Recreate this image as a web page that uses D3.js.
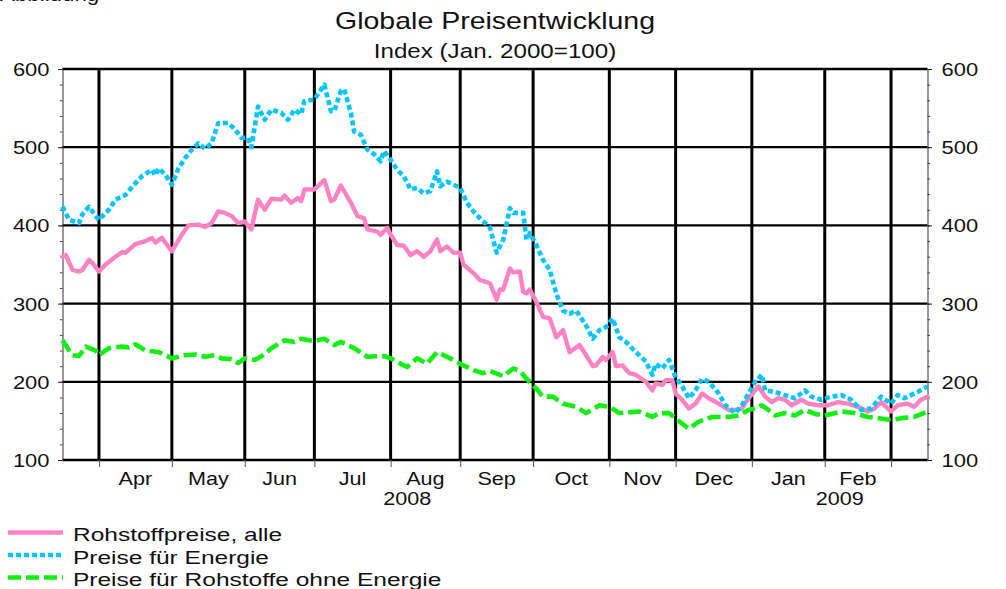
<!DOCTYPE html>
<html>
<head>
<meta charset="utf-8">
<script src="https://cdn.jsdelivr.net/npm/d3@7"></script>
<style>
  body { margin: 0; background: #fff; }
  svg { display: block; }
  text { font-family: "Liberation Sans", Arial, sans-serif; fill: #111; }
</style>
</head>
<body>
<div id="chart"></div>
<script>
// x positions are trading days (Mon-Fri), day 0 = 17 Mar 2008
const seriesNames = ["Rohstoffpreise, alle", "Preise für Energie", "Preise für Rohstoffe ohne Energie"];
const monthNames = ["Jan", "Feb", "Mar", "Apr", "May", "Jun", "Jul", "Aug", "Sep", "Oct", "Nov", "Dec"];
const yTicks = [100, 200, 300, 400, 500, 600];

const allDays = [0,1,3,5,6,8,9,11,13,16, 18,19,22,25,27,28,30,33,36,38, 41,43,45,47,49,51,53,55,57,59,
  61,63,66,67,69,71,72,73,76,79, 81,82,84,87,89,91,92,95,96,98, 99,101,103,105,107,109,111,113,114,116,
  118,120,121,124,126,129,131,132,133,135, 136,138,139,140,141,143,145,147,149,151, 153,156,158,160,161,163,164,166,167,169,
  171,173,176,178,179,181,182,184,185,187, 189,191,193,195,198,201,203,205,207,210, 212,214,216,218,220,223,225,228,231,234,
  237,240,243,245,247,250,252,255,257,259, 261];
const allValues = [360,362,343,341,343,356,352,341,350,360, 366,365,376,380,384,378,384,367,388,400, 401,398,403,418,416,412,403,405,395,433,
  420,434,433,438,429,435,431,446,446,458, 431,433,451,429,412,409,395,392,388,397, 388,375,374,362,367,360,367,382,367,373,
  365,365,350,339,330,326,305,318,318,345, 340,341,315,313,318,302,283,281,257,266, 238,247,234,220,221,232,228,238,220,221,
  211,209,200,189,198,196,202,202,185,177, 166,172,185,179,172,164,164,166,179,194, 181,174,179,177,170,177,172,170,170,174,
  172,168,162,166,174,162,170,172,168,177, 181];

const energyDays = [0,2,5,6,8,10,11,13,14,16, 18,19,22,24,27,28,29,31,33,35, 37,39,41,43,45,47,50,52,54,56,
  57,59,61,63,66,68,70,72,73,76, 79,81,82,84,85,87,88,90,92,94, 96,97,99,101,103,105,107,109,111,113,
  114,116,118,120,122,124,126,129,131,133, 135,136,139,140,141,143,145,147,149,151, 153,155,158,160,162,164,166,168,170,173,
  176,178,179,181,183,185,187,189,191,193, 195,198,200,203,205,207,209,211,212,215, 218,221,224,226,229,232,235,238,241,244,
  247,250,252,254,256,258,261];
const energyValues = [424,407,403,414,424,412,407,416,420,433, 437,439,454,463,471,464,473,465,452,473, 486,497,505,498,505,531,531,523,512,512,
  500,552,535,548,544,535,548,542,559,561, 580,546,546,572,574,544,520,516,497,491, 482,495,484,471,463,446,448,441,444,469,
  450,456,452,448,429,418,409,397,365,382, 422,416,416,382,390,375,356,343,313,291, 287,291,272,255,266,270,281,257,251,238,
  226,209,223,217,228,206,194,179,189,204, 200,185,170,160,170,185,200,209,189,187, 183,179,189,181,177,181,183,177,164,166,
  181,172,183,179,183,187,194];

const nonEnergyDays = [0,3,5,7,10,11,14,18,20,22, 25,29,31,33,37,40,43,46,48,51, 53,55,58,61,63,67,70,72,76,79,
  82,84,88,92,97,99,102,104,107,110, 113,117,120,124,127,129,133,136,138,140, 143,145,148,151,155,158,162,165,168,174,
  178,180,183,185,189,192,196,201,204,207, 209,211,213,215,218,221,224,227,230,235, 239,243,247,250,254,257,261];
const nonEnergyValues = [253,234,233,245,240,234,243,245,244,248, 240,238,234,230,234,235,232,234,230,229, 224,230,228,235,243,253,251,255,252,255,
  247,251,243,232,233,230,223,219,230,223, 238,230,223,215,211,214,207,217,214,204, 191,181,181,172,168,160,170,168,160,162,
  155,160,160,153,140,149,155,155,157,164, 166,170,164,157,160,157,164,159,157,162, 160,155,153,151,154,155,162];

const W = 1006, H = 589;
const plotLeft = 62.5, plotRight = 927.5, plotTop = 69, plotBottom = 460;
const sx = 1.22; // the original picture is stretched horizontally

const series = [
  { name: seriesNames[0], days: allDays, values: allValues, color: "#ff82c3", dash: null, width: 4.4 },
  { name: seriesNames[1], days: energyDays, values: energyValues, color: "#00c6ff", dash: "5,3", width: 4.6 },
  { name: seriesNames[2], days: nonEnergyDays, values: nonEnergyValues, color: "#11f011", dash: "13,5", width: 4.6 }
];

// trading calendar
const tradingDates = d3.timeDay.range(new Date(2008, 2, 17), new Date(2009, 2, 18))
  .filter(d => d.getDay() % 6 !== 0);
const lastDay = tradingDates.length - 1;
const monthStarts = d3.range(1, tradingDates.length)
  .filter(i => tradingDates[i].getMonth() !== tradingDates[i - 1].getMonth());

const x = d3.scaleLinear().domain([0, lastDay]).range([plotLeft, plotRight]);
const y = d3.scaleLinear().domain([100, 600]).range([plotBottom, plotTop]);

const svg = d3.select("#chart").append("svg").attr("width", W).attr("height", H);

function label(str, px, py, size, anchor, k) {
  return svg.append("text")
    .attr("transform", `translate(${px},${py}) scale(${k},1)`)
    .attr("text-anchor", anchor)
    .style("font-size", size + "px")
    .text(str);
}

// caption cut off at the very top, as in the original
label("Abbildung", 0, 0.5, 18, "start", 1.24);

label("Globale Preisentwicklung", (plotLeft + plotRight) / 2, 29, 23, "middle", 1.24);
label("Index (Jan. 2000=100)", (plotLeft + plotRight) / 2, 57.5, 19.5, "middle", 1.24);

// grid
svg.append("g").selectAll("line").data(yTicks).join("line")
  .attr("x1", plotLeft).attr("x2", plotRight)
  .attr("y1", d => y(d)).attr("y2", d => y(d))
  .attr("stroke", "#000").attr("stroke-width", 2.3);

svg.append("g").selectAll("line").data(monthStarts).join("line")
  .attr("x1", d => x(d)).attr("x2", d => x(d))
  .attr("y1", plotTop).attr("y2", plotBottom)
  .attr("stroke", "#000").attr("stroke-width", 3);

// y axes, both sides
function yAxis(axisFn, px, textOffset, anchor) {
  svg.append("g").attr("transform", `translate(${px},0)`)
    .call(axisFn(y).tickValues(d3.range(100, 601, 20)).tickSize(2.5).tickFormat(""))
    .call(g => g.select(".domain").remove())
    .call(g => g.selectAll(".tick line").attr("stroke", "#444"));
  svg.append("g").attr("transform", `translate(${px},0)`)
    .call(axisFn(y).tickValues(yTicks).tickSize(4.5).tickSizeOuter(0))
    .call(g => g.select(".domain").attr("stroke", "#333").attr("stroke-width", 1))
    .call(g => g.selectAll(".tick line").attr("stroke", "#222"))
    .call(g => g.selectAll(".tick text")
      .attr("x", null).attr("dy", "0.36em")
      .attr("text-anchor", anchor)
      .attr("transform", `translate(${textOffset},0) scale(${sx},1)`)
      .style("font-size", "18px").attr("font-family", null).attr("font-size", null).attr("fill", "#111"));
}
yAxis(d3.axisLeft, plotLeft, -13, "end");
yAxis(d3.axisRight, plotRight, 14, "start");

// x axis: month boundary ticks
svg.append("g").attr("transform", `translate(0,${plotBottom})`)
  .call(d3.axisBottom(x).tickValues(monthStarts).tickSize(7).tickFormat(""))
  .call(g => g.select(".domain").remove())
  .call(g => g.selectAll(".tick line").attr("stroke", "#555"));

for (let i = 0; i < monthStarts.length - 1; i++) {
  const a = monthStarts[i], b = monthStarts[i + 1];
  label(monthNames[tradingDates[a].getMonth()], (x(a) + x(b)) / 2, 485, 18, "middle", 1.2);
}
d3.groups(d3.range(tradingDates.length), i => tradingDates[i].getFullYear()).forEach(([yr, idx]) => {
  const a = idx[0], b = Math.min(idx[idx.length - 1] + 1, lastDay);
  label(String(yr), (x(a) + x(b)) / 2, 505, 18, "middle", 1.2);
});

// series
const line = d3.line().x(d => x(d[0])).y(d => y(d[1]));
series.forEach(s => {
  svg.append("path")
    .datum(s.days.map((d, i) => [d, s.values[i]]))
    .attr("d", line)
    .attr("fill", "none")
    .attr("stroke", s.color)
    .attr("stroke-width", s.width)
    .attr("stroke-linejoin", "round")
    .attr("stroke-linecap", s.dash ? "butt" : "round")
    .attr("stroke-dasharray", s.dash);
});

// legend
series.forEach((s, i) => {
  const cy = 532.5 + i * 22.5;
  svg.append("line")
    .attr("x1", 8).attr("x2", 63).attr("y1", cy).attr("y2", cy)
    .attr("stroke", s.color).attr("stroke-width", s.width)
    .attr("stroke-dasharray", s.dash);
  label(s.name, 73, cy + 8.5, 19, "start", 1.29);
});
</script>
</body>
</html>
